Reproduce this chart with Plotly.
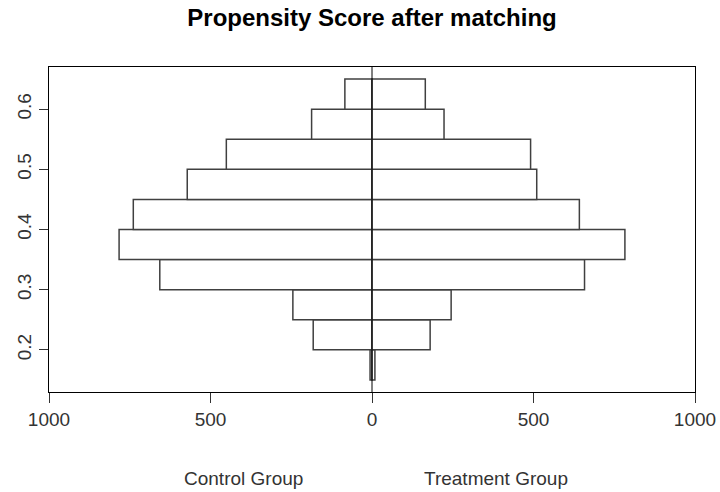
import plotly.graph_objects as go

bin_mids = [0.175, 0.225, 0.275, 0.325, 0.375, 0.425, 0.475, 0.525, 0.575, 0.625]
control_counts = [6, 182, 245, 657, 783, 739, 572, 451, 187, 84]
treatment_counts = [9, 180, 245, 658, 783, 642, 510, 491, 223, 165]
bin_width = 0.05
x_tickvals = [-1000, -500, 0, 500, 1000]
x_ticktext = ["1000", "500", "0", "500", "1000"]
y_tickvals = [0.2, 0.3, 0.4, 0.5, 0.6]

FONT = "Liberation Sans, Arial, sans-serif"
OUT = "#404040"
L, R, T, B = 49, 25, 67, 100
PW, PH = 720 - L - R, 492 - T - B

fig = go.Figure()
fig.add_trace(go.Bar(
    y=bin_mids, x=[-c for c in control_counts], base=0, orientation="h",
    width=[bin_width] * len(bin_mids),
    marker=dict(color="white", line=dict(color=OUT, width=1.5)),
    name="Control Group", showlegend=False,
))
fig.add_trace(go.Bar(
    y=bin_mids, x=treatment_counts, base=0, orientation="h",
    width=[bin_width] * len(bin_mids),
    marker=dict(color="white", line=dict(color=OUT, width=1.5)),
    name="Treatment Group", showlegend=False,
))
fig.add_shape(type="line", xref="x", yref="paper", x0=0, x1=0, y0=0, y1=1,
              line=dict(color="black", width=1))

fig.update_layout(
    width=720, height=492,
    margin=dict(l=L, r=R, t=T, b=B),
    plot_bgcolor="white", paper_bgcolor="white",
    barmode="overlay",
    font=dict(family=FONT, color="#333333", size=19),
    title=dict(text="<b>Propensity Score after matching</b>", x=0.5, xanchor="center",
               xref="paper", yref="container", y=1 - 18 / 492, yanchor="middle",
               font=dict(family=FONT, size=24, color="black")),
    xaxis=dict(range=[-1000, 1000], tickvals=x_tickvals, ticktext=x_ticktext,
               automargin=False,
               showgrid=False, zeroline=False, showline=True, linecolor="black",
               linewidth=1.2, mirror=True, ticks="outside", ticklen=10,
               tickwidth=1.2, tickcolor="#333333"),
    yaxis=dict(range=[0.13, 0.67], tickvals=y_tickvals, tickangle=-90,
               automargin=False,
               showgrid=False, zeroline=False, showline=True, linecolor="black",
               linewidth=1.2, mirror=True, ticks="outside", ticklen=9,
               tickwidth=1.2, tickcolor="#333333"),
)
fig.add_annotation(text="Control Group", xref="paper", yref="paper",
                   x=(243 - L) / PW, y=-(478 - (492 - B)) / PH, xanchor="center",
                   yanchor="middle", showarrow=False,
                   font=dict(family=FONT, size=19, color="#333333"))
fig.add_annotation(text="Treatment Group", xref="paper", yref="paper",
                   x=(496 - L) / PW, y=-(478 - (492 - B)) / PH, xanchor="center",
                   yanchor="middle", showarrow=False,
                   font=dict(family=FONT, size=19, color="#333333"))

fig.write_html("out.html", config={"displayModeBar": False},
               post_script="document.body.style.margin='0';document.body.style.overflow='hidden';")
